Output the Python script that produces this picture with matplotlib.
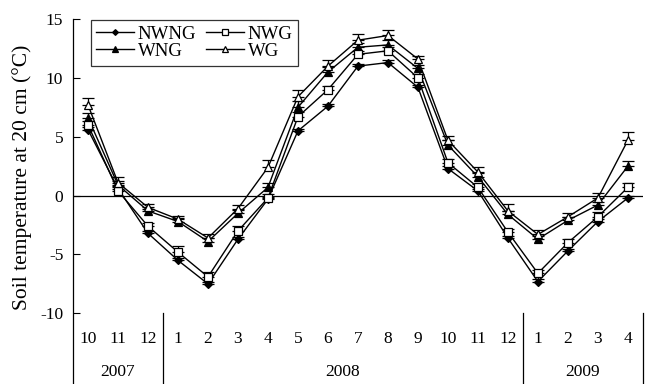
import numpy as np
import matplotlib.pyplot as plt

plt.rcParams['font.family'] = ['Liberation Serif', 'DejaVu Serif']

months = ["10", "11", "12", "1", "2", "3", "4", "5", "6", "7", "8", "9",
          "10", "11", "12", "1", "2", "3", "4"]
years = ["2007", "2008", "2009"]
year_center = [1, 8.5, 16.5]
year_breaks = [2.5, 14.5, 18.5]

nwng = [5.6, 0.6, -3.2, -5.5, -7.5, -3.7, -0.3, 5.5, 7.6, 11.0, 11.3, 9.2,
        2.3, 0.4, -3.6, -7.3, -4.7, -2.2, -0.2]
nwg = [6.0, 0.4, -2.6, -4.8, -6.9, -3.0, -0.2, 6.7, 9.0, 12.0, 12.3, 10.0,
       2.8, 0.7, -3.1, -6.6, -4.0, -1.8, 0.7]
wng = [6.6, 0.9, -1.3, -2.2, -3.9, -1.5, 0.7, 7.5, 10.5, 12.6, 12.8, 10.8,
       4.3, 1.6, -1.6, -3.7, -2.1, -0.8, 2.5]
wg = [7.7, 1.1, -1.0, -2.0, -3.6, -1.1, 2.4, 8.4, 11.0, 13.2, 13.6, 11.6,
      4.7, 2.0, -1.3, -3.3, -1.8, -0.2, 4.7]

nwng_err = [0.2, 0.2, 0.2, 0.2, 0.2, 0.2, 0.2, 0.2, 0.2, 0.2, 0.2, 0.2,
            0.2, 0.2, 0.2, 0.2, 0.2, 0.2, 0.2]
nwg_err = [0.3, 0.3, 0.3, 0.5, 0.4, 0.4, 0.3, 0.4, 0.3, 0.3, 0.3, 0.3,
           0.3, 0.3, 0.3, 0.3, 0.3, 0.4, 0.4]
wng_err = [0.4, 0.3, 0.2, 0.3, 0.3, 0.3, 0.4, 0.5, 0.4, 0.4, 0.4, 0.3,
           0.4, 0.3, 0.3, 0.3, 0.3, 0.3, 0.4]
wg_err = [0.6, 0.5, 0.3, 0.3, 0.3, 0.3, 0.6, 0.6, 0.5, 0.5, 0.5, 0.3,
          0.4, 0.4, 0.6, 0.4, 0.3, 0.4, 0.7]

x = np.arange(len(months))

fig = plt.figure(figsize=(6.52, 3.84), dpi=100)
ax = fig.add_axes([0.112, 0.0, 0.874, 0.9505])

ax.axhline(0, color="black", lw=0.9, zorder=1)

series = [
    ("NWNG", nwng, nwng_err, "D", "black", 4.5),
    ("WNG", wng, wng_err, "^", "black", 6),
    ("NWG", nwg, nwg_err, "s", "white", 6),
    ("WG", wg, wg_err, "^", "white", 6),
]
handles = []
for name, y, e, m, fc, ms in series:
    ax.errorbar(x, y, yerr=[np.zeros(len(e)), e], fmt="none", ecolor="black",
                elinewidth=0.9, capsize=4, capthick=0.9, zorder=2)
    h, = ax.plot(x, y, color="black", lw=1.0, marker=m, mfc=fc, mec="black",
                 mew=0.9, ms=ms, label=name, zorder=3)
    handles.append(h)

ax.set_xlim(-0.5, 18.5)
ax.set_ylim(-16, 15)
ax.set_yticks([-10, -5, 0, 5, 10, 15])
ax.set_yticklabels(["-10", "-5", "0", "5", "10", "15"])
ax.set_xticks([])
ax.tick_params(axis="y", direction="in", length=5, labelsize=12.5, pad=7)
for s in ["top", "right", "bottom"]:
    ax.spines[s].set_visible(False)
ax.spines["left"].set_linewidth(0.9)

for i, m in enumerate(months):
    ax.text(x[i], -12.15, m, ha="center", va="center", fontsize=12.5)
for c, yr in zip(year_center, years):
    ax.text(c, -14.95, yr, ha="center", va="center", fontsize=12.5)
for b in year_breaks:
    ax.plot([b, b], [-10, -16], color="black", lw=0.9, clip_on=False)

ax.set_ylabel("Soil temperature at 20 cm (\u00b0C)", fontsize=15.5)
ax.yaxis.set_label_coords(-0.072, 0.565)

leg = ax.legend(handles=handles, ncol=2, loc="upper left",
                bbox_to_anchor=(0.031, 0.997), borderaxespad=0,
                fancybox=False, edgecolor="black", fontsize=13.5,
                handlelength=2.0, columnspacing=0.55, handletextpad=0.2,
                labelspacing=0.0, borderpad=0.3, markerscale=0.65)
leg.get_frame().set_linewidth(0.9)

plt.savefig("out.png", dpi=100)
